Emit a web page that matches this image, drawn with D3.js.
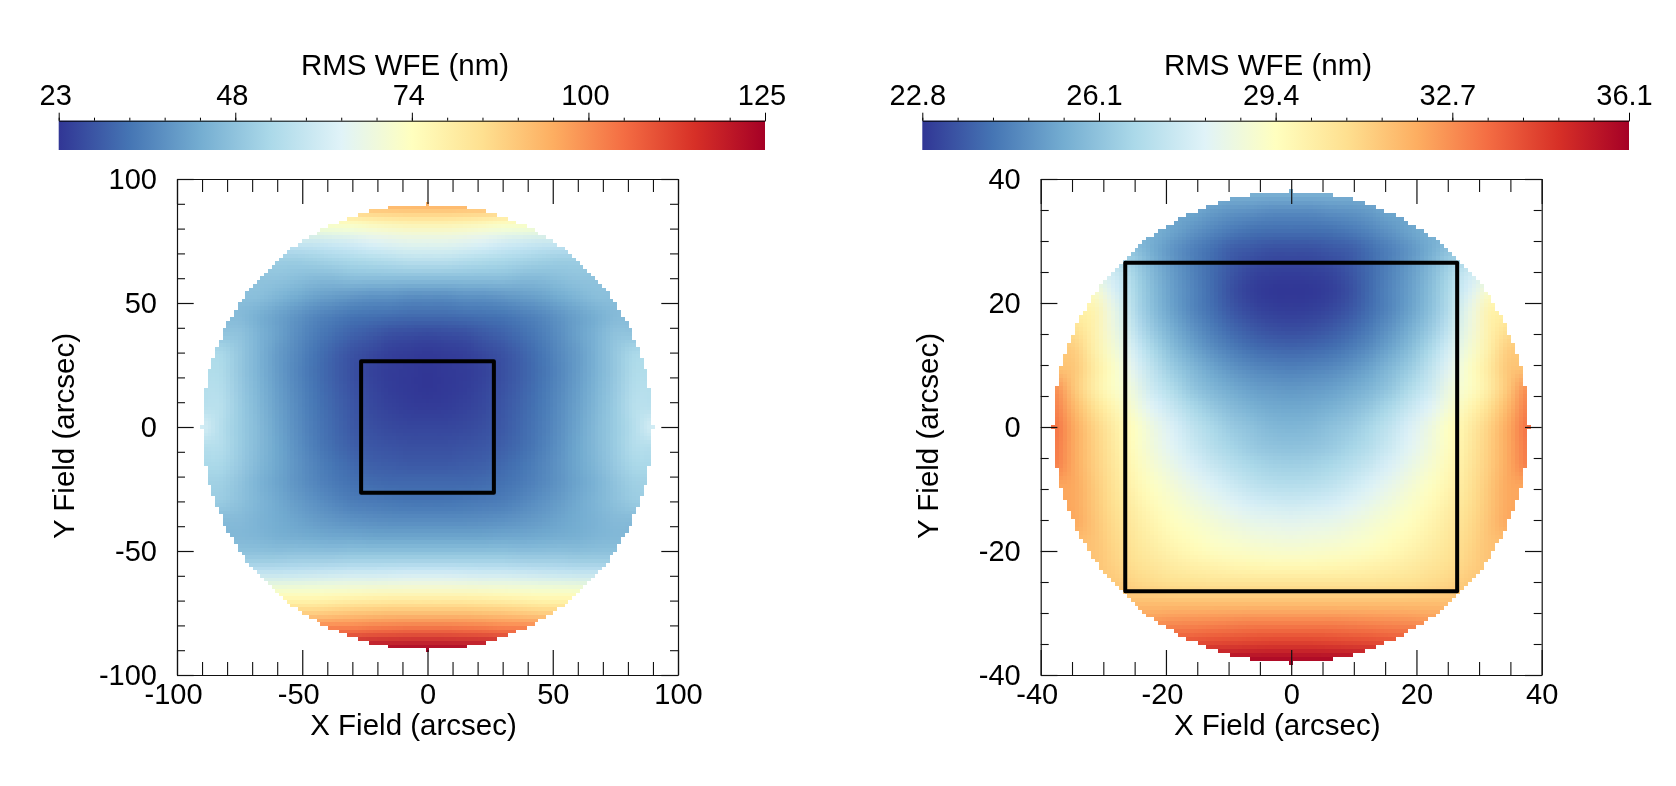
<!DOCTYPE html>
<html>
<head>
<meta charset="utf-8">
<script src="https://cdn.jsdelivr.net/npm/d3@7"></script>
<style>
	body { margin: 0; background: #fff; }
	#chart { position: relative; width: 1676px; height: 786px; overflow: hidden; }
	#chart canvas, #chart svg { position: absolute; left: 0; top: 0; }
	text { font-family: "Liberation Sans", Arial, sans-serif; fill: #000; }
</style>
</head>
<body>
<div id="chart"></div>
<script>
/*Colour ramp of the RMS WFE bars, blue to red*/
var rampColors = ["#313695", "#4575b4", "#74add1", "#abd9e9", "#e0f3f8", "#ffffbf", "#fee090", "#fdae61", "#f46d43", "#d73027", "#a50026"];

/*Left panel. RMS WFE (nm).
  Rows run from y = +90 to y = -90 in steps of 7.5 arcsec,
  columns from x = 0 outwards in steps of 7.5 arcsec (the map is mirrored about x = 0)*/
var leftWfe = [
	[94.4],
	[78, 78, 77, 76, 74],
	[66, 66, 65, 64, 62, 61, 60],
	[57, 57, 56, 55, 54, 53, 52, 51],
	[47.5, 47.5, 47.5, 47.5, 47.5, 46.5, 46.5, 47.5, 48.5],
	[37.3, 37.3, 38.3, 38.3, 39.3, 40.3, 41.4, 43.4, 45.4, 47.5],
	[31.7, 31.7, 32.2, 32.7, 33.2, 34.7, 36.3, 38.8, 41.4, 43.9, 46.5],
	[26.1, 26.6, 27.1, 28.6, 30.1, 32.2, 34.7, 37.8, 41.4, 44.9, 48.5],
	[23.5, 24, 24.5, 26.1, 27.6, 30.1, 33.2, 36.8, 40.3, 44.9, 49.5, 53.6],
	[23, 23.5, 24, 25, 27.1, 29.6, 32.7, 36.3, 40.3, 44.9, 49.5, 54.6],
	[23, 23.5, 24.2, 25.6, 27.6, 30.1, 33.2, 36.8, 40.9, 45.4, 50, 55.6],
	[24, 24.2, 25, 26.1, 28.1, 30.7, 33.7, 37.3, 41.4, 46, 50.5, 56.2],
	[25.6, 25.6, 26.1, 27.1, 28.6, 31.2, 34.2, 37.8, 41.9, 46.5, 50.5, 55.6, 61.8],
	[27.1, 27.1, 27.6, 28.1, 29.6, 31.7, 34.7, 38.3, 42.4, 46.5, 50.5, 55.6],
	[28.6, 28.6, 29.1, 29.6, 31.2, 33.2, 35.8, 38.8, 42.4, 46, 50, 53.6],
	[31.2, 31.2, 31.2, 31.7, 32.7, 34.2, 36.3, 38.8, 41.9, 44.9, 48.5, 51.6],
	[33.2, 33.2, 33.7, 34.2, 34.7, 36.3, 38.3, 40.3, 42.9, 45.4, 48, 50.5],
	[37.3, 37.3, 37.3, 37.8, 38.3, 39.3, 40.3, 41.9, 43.4, 44.9, 46.5],
	[42.4, 42.4, 42.4, 42.4, 42.9, 42.9, 43.4, 43.9, 44.4, 45.4, 46],
	[50.5, 50.5, 50.5, 50.5, 50.5, 50, 50, 50, 49.5, 49.5],
	[62.8, 62.8, 62.3, 61.8, 61.8, 61.3, 60.7, 60.2, 59.7],
	[76, 76, 76, 75.5, 75, 74.5, 74, 74],
	[90.3, 90.3, 90.3, 89.8, 89.3, 88.3, 87.3],
	[106.6, 106.6, 106.1, 105.6, 104.6],
	[125]
];

/*Right panel, same layout, steps of 38/12 arcsec*/
var rightWfe = [
	[25.73],
	[24.66, 24.66, 24.80, 24.86, 25.06, 25.33],
	[24.00, 24.00, 24.06, 24.26, 24.53, 24.86, 25.26, 25.59],
	[23.33, 23.33, 23.47, 23.60, 24.00, 24.40, 24.86, 25.46, 26.13],
	[23.00, 23.03, 23.13, 23.47, 23.93, 24.46, 25.06, 25.79, 26.66, 27.59],
	[22.80, 22.83, 22.96, 23.33, 23.93, 24.53, 25.13, 25.93, 26.92, 27.99, 29.18],
	[22.93, 22.96, 23.13, 23.47, 24.00, 24.53, 25.19, 26.00, 27.06, 28.52, 29.98],
	[23.27, 23.33, 23.53, 23.86, 24.33, 24.86, 25.53, 26.32, 27.39, 28.72, 30.05, 30.78],
	[23.80, 23.86, 24.00, 24.33, 24.73, 25.26, 25.93, 26.79, 27.85, 28.98, 30.12, 31.31],
	[24.40, 24.46, 24.60, 24.86, 25.26, 25.79, 26.39, 27.26, 28.25, 29.32, 30.38, 31.51],
	[24.93, 25.00, 25.13, 25.39, 25.73, 26.19, 26.92, 27.59, 28.65, 29.32, 30.25, 31.51, 32.91],
	[25.33, 25.39, 25.59, 25.86, 26.26, 26.79, 27.46, 28.12, 28.98, 29.85, 30.78, 31.91, 33.17],
	[25.73, 25.79, 26.06, 26.32, 26.79, 27.32, 27.99, 28.65, 29.45, 30.25, 31.18, 32.24, 33.44],
	[26.06, 26.13, 26.32, 26.66, 27.06, 27.59, 28.19, 28.79, 29.52, 30.38, 31.25, 32.24, 33.31],
	[26.52, 26.59, 26.79, 27.12, 27.52, 27.99, 28.52, 29.05, 29.72, 30.51, 31.31, 32.24, 33.17],
	[27.06, 27.12, 27.32, 27.65, 28.05, 28.45, 28.92, 29.38, 29.92, 30.65, 31.45, 32.24],
	[27.72, 27.79, 27.92, 28.19, 28.52, 28.85, 29.25, 29.65, 30.18, 30.78, 31.51, 32.24],
	[28.39, 28.45, 28.52, 28.72, 28.98, 29.25, 29.52, 29.92, 30.38, 30.91, 31.58, 32.24],
	[28.92, 28.98, 29.05, 29.18, 29.32, 29.58, 29.85, 30.18, 30.58, 31.05, 31.58],
	[29.65, 29.65, 29.72, 29.78, 29.92, 30.05, 30.25, 30.51, 30.78, 31.18, 31.58],
	[30.65, 30.65, 30.65, 30.65, 30.65, 30.71, 30.78, 30.91, 31.11, 31.45],
	[31.71, 31.71, 31.71, 31.71, 31.71, 31.71, 31.71, 31.71, 31.71],
	[33.04, 33.04, 33.04, 32.97, 32.91, 32.84, 32.78, 32.64],
	[34.44, 34.44, 34.37, 34.30, 34.24, 34.11],
	[36.10]
];

var leftBarLabels = ["23", "48", "74", "100", "125"];
var rightBarLabels = ["22.8", "26.1", "29.4", "32.7", "36.1"];
var leftRange = [23, 125];
var rightRange = [22.8, 36.1];

var leftMajor = [-100, -50, 0, 50, 100];
var leftMinor = [-90, -80, -70, -60, -40, -30, -20, -10, 10, 20, 30, 40, 60, 70, 80, 90];
var rightMajor = [-40, -20, 0, 20, 40];
var rightMinor = [-35, -30, -25, -15, -10, -5, 5, 10, 15, 25, 30, 35];

var W = 1676, H = 786;
var cellsPerRadius = 60;   /*the disc is 121 cells across*/
var cellsPerStep = 5;      /*table step in cells*/
var fontSize = 29;
var titleSize = 29.5;

var chart = d3.select("#chart");
var canvas = chart.append("canvas").attr("width", W).attr("height", H);
var svg = chart.append("svg").attr("width", W).attr("height", H);
var ctx = canvas.node().getContext("2d");

svg.append("defs");

function colorScale(range) {
	var color = d3.scaleLinear()
		.domain(rampColors.map(function(c, i) { return range[0] + (range[1] - range[0]) * i / (rampColors.length - 1); }))
		.range(rampColors)
		.clamp(true);
	return color;
};/*colorScale*/

/*///////////////////////////////////////////////////////////
//Colour bar on top of a panel
///////////////////////////////////////////////////////////*/
function drawBar(id, left, right, range, labels, dx, titleX) {

	var bar = d3.scaleLinear().domain(range).range([left, right]);
	var step = (range[1] - range[0]) / 4;
	var major = labels.map(function(d, i) { return range[0] + i * step; });
	var minor = d3.range(21).map(function(i) { return range[0] + i * step / 5; });
	var top = 120.7, bottom = 150;

	var grad = svg.select("defs").append("linearGradient").attr("id", id);
	rampColors.forEach(function(c, i) {
		grad.append("stop")
			.attr("offset", (i * 10) + "%")
			.attr("stop-color", c);
	});

	svg.append("rect")
		.attr("x", left)
		.attr("y", top)
		.attr("width", right - left)
		.attr("height", bottom - top)
		.style("fill", "url(#" + id + ")");

	var axisMinor = svg.append("g")
		.attr("transform", "translate(0," + top + ")")
		.call(d3.axisTop(bar).tickValues(minor).tickSizeInner(3).tickSizeOuter(0).tickFormat(""));
	axisMinor.select(".domain").remove();

	var axisMajor = svg.append("g")
		.attr("transform", "translate(0," + top + ")")
		.call(d3.axisTop(bar).tickValues(major).tickSizeInner(8).tickSizeOuter(0).tickPadding(7.7)
			.tickFormat(function(d, i) { return labels[i]; }));
	axisMajor.selectAll("text")
		.attr("dx", dx)
		.style("font-size", fontSize + "px");
	axisMajor.attr("font-family", null).attr("font-size", null);

	svg.append("text")
		.attr("x", titleX)
		.attr("y", 75)
		.attr("text-anchor", "middle")
		.style("font-size", titleSize + "px")
		.text("RMS WFE (nm)");

};/*drawBar*/

/*///////////////////////////////////////////////////////////
//Disc map, box and frame of a panel
///////////////////////////////////////////////////////////*/
function drawPanel(left, right, limit, radius, rows, range, major, minor) {

	var top = 179, bottom = 675;
	var x = d3.scaleLinear().domain([-limit, limit]).range([left, right]);
	var y = d3.scaleLinear().domain([-limit, limit]).range([bottom, top]);
	var color = colorScale(range);

	var half = rows.length - 1;
	var table = document.createElement("canvas");
	table.width = rows.length;
	table.height = rows.length;
	var tableCtx = table.getContext("2d");
	rows.forEach(function(row, j) {
		d3.range(-half / 2, half / 2 + 1).forEach(function(k) {
			var a = Math.abs(k);
			tableCtx.fillStyle = color(a < row.length ? row[a] : row[row.length - 1]);
			tableCtx.fillRect(k + half / 2, j, 1, 1);
		});
	});

	/*Raster of the disc, 121 cells across*/
	var n = 2 * cellsPerRadius + 1;
	var cells = document.createElement("canvas");
	cells.width = n;
	cells.height = n;
	var cellCtx = cells.getContext("2d");
	cellCtx.imageSmoothingEnabled = true;
	cellCtx.imageSmoothingQuality = "high";
	var offset = (n - rows.length * cellsPerStep) / 2;
	cellCtx.drawImage(table, offset, offset, rows.length * cellsPerStep, rows.length * cellsPerStep);
	d3.range(n).forEach(function(i) {
		d3.range(n).forEach(function(j) {
			var a = i - cellsPerRadius, b = j - cellsPerRadius;
			if (a * a + b * b > cellsPerRadius * cellsPerRadius) cellCtx.clearRect(i, j, 1, 1);
		});
	});

	var cell = radius / cellsPerRadius;
	ctx.imageSmoothingEnabled = false;
	ctx.drawImage(cells,
		x(-radius - cell / 2), y(radius + cell / 2),
		x(radius + cell / 2) - x(-radius - cell / 2), y(-radius - cell / 2) - y(radius + cell / 2));

	/*Field box*/
	svg.append("rect")
		.attr("x", x(-26.5))
		.attr("y", y(26.5))
		.attr("width", x(26.5) - x(-26.5))
		.attr("height", y(-26.5) - y(26.5))
		.style("fill", "none")
		.style("stroke", "#000")
		.style("stroke-width", 4)
		.style("stroke-linejoin", "round");

	/*Ticks on all four sides*/
	var sides = [
		{axis: d3.axisBottom(x), at: [0, bottom], long: -25, short: -13},
		{axis: d3.axisTop(x), at: [0, top], long: -25, short: -13},
		{axis: d3.axisLeft(y), at: [left, 0], long: -16.7, short: -8},
		{axis: d3.axisRight(y), at: [right, 0], long: -16.7, short: -8}
	];
	sides.forEach(function(s, i) {
		var gMinor = svg.append("g")
			.attr("transform", "translate(" + s.at + ")")
			.call(s.axis.tickValues(minor).tickSizeInner(s.short).tickSizeOuter(0).tickFormat(""));
		gMinor.select(".domain").remove();

		var gMajor = svg.append("g")
			.attr("transform", "translate(" + s.at + ")")
			.call(s.axis.tickValues(major).tickSizeInner(s.long).tickSizeOuter(0)
				.tickPadding(i === 0 ? 8.5 : 20)
				.tickFormat(i < 1 || i === 2 ? function(d) { return String(d); } : ""));
		gMajor.attr("font-family", null).attr("font-size", null);
		gMajor.selectAll("text")
			.style("font-size", fontSize + "px")
			.attr("dx", function(d) { return i === 0 && d < 0 ? -4 : 0; });
		gMajor.selectAll("line, path").style("stroke", "#111").style("stroke-width", 1.2);
		gMinor.selectAll("line").style("stroke", "#111").style("stroke-width", 1.1);
	});

	svg.append("text")
		.attr("x", x(0) - 14)
		.attr("y", 735)
		.attr("text-anchor", "middle")
		.style("font-size", titleSize + "px")
		.text("X Field (arcsec)");

	svg.append("text")
		.attr("transform", "translate(" + (left - 103) + ",436) rotate(-90)")
		.attr("text-anchor", "middle")
		.style("font-size", titleSize + "px")
		.text("Y Field (arcsec)");

};/*drawPanel*/

drawBar("rampLeft", 58.7, 765, leftRange, leftBarLabels, -3.5, 405);
drawBar("rampRight", 922.3, 1629, rightRange, rightBarLabels, -5, 1268);

drawPanel(177, 678, 100, 90, leftWfe, leftRange, leftMajor, leftMinor);
drawPanel(1040.7, 1541.7, 40, 38, rightWfe, rightRange, rightMajor, rightMinor);
</script>
</body>
</html>
